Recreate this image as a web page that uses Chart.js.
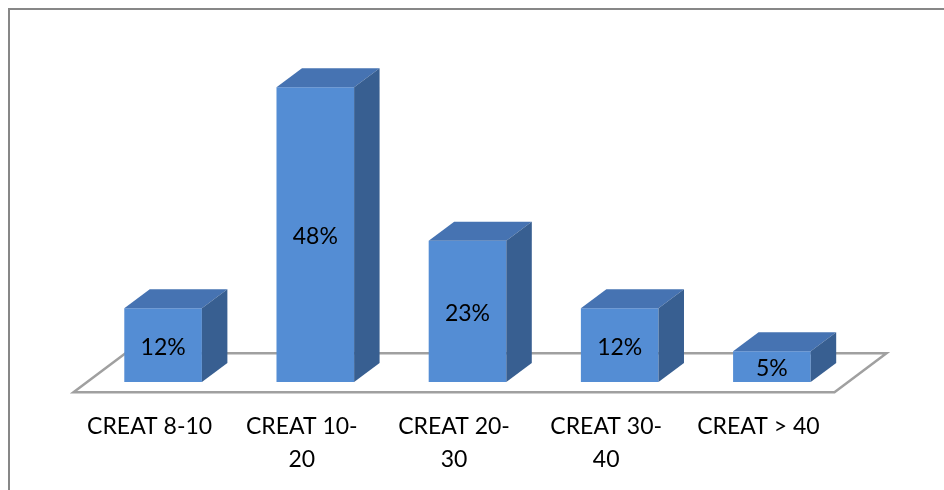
<!DOCTYPE html>
<html>
<head>
<meta charset="utf-8">
<script src="https://cdn.jsdelivr.net/npm/chart.js@4.4.1/dist/chart.umd.min.js"></script>
<style>
  html, body { margin: 0; padding: 0; background: #ffffff; }
  #wrap { width: 944px; height: 490px; position: relative; }
</style>
</head>
<body>
<div id="wrap"><canvas id="c" width="944" height="490"></canvas></div>
<script>
const categories = ["CREAT 8-10", ["CREAT 10-", "20"], ["CREAT 20-", "30"], ["CREAT 30-", "40"], "CREAT > 40"];
const values = [12, 48, 23, 12, 5];
const valueLabels = ["12%", "48%", "23%", "12%", "5%"];

const FRONT = '#548DD4';
const TOP = '#4673B2';
const SIDE = '#385F91';

// depth geometry (pixels)
const FLOOR_D = { dx: 52, dy: -39 };
const BAR_FRONT_T = 0.26;
const BAR_BACK_T = 0.75;

const threeD = {
  id: 'threeD',
  beforeDraw(chart) {
    const ctx = chart.ctx;
    ctx.save();
    ctx.fillStyle = '#ffffff';
    ctx.fillRect(0, 0, chart.width, chart.height);
    ctx.strokeStyle = '#878787';
    ctx.lineWidth = 2;
    ctx.strokeRect(9, 9, 2000, 2000);
    ctx.restore();
  },
  beforeDatasetsDraw(chart) {
    const ctx = chart.ctx;
    const x = chart.scales.x, y = chart.scales.y;
    const off = BAR_FRONT_T;
    const y0 = y.getPixelForValue(0) - FLOOR_D.dy * off;
    const xl = x.left - FLOOR_D.dx * off;
    const xr = x.right - FLOOR_D.dx * off;
    ctx.save();
    ctx.beginPath();
    ctx.moveTo(xl, y0);
    ctx.lineTo(xr, y0);
    ctx.lineTo(xr + FLOOR_D.dx, y0 + FLOOR_D.dy);
    ctx.lineTo(xl + FLOOR_D.dx, y0 + FLOOR_D.dy);
    ctx.closePath();
    ctx.fillStyle = '#ffffff';
    ctx.fill();
    ctx.strokeStyle = '#a0a0a0';
    ctx.lineWidth = 2.5;
    ctx.stroke();
    ctx.restore();
  },
  afterDatasetsDraw(chart) {
    const ctx = chart.ctx;
    const meta = chart.getDatasetMeta(0);
    const bdx = FLOOR_D.dx * (BAR_BACK_T - BAR_FRONT_T);
    const bdy = FLOOR_D.dy * (BAR_BACK_T - BAR_FRONT_T);
    ctx.save();
    meta.data.forEach((bar, i) => {
      const p = bar.getProps(['x', 'y', 'base', 'width'], true);
      const x1 = p.x - p.width / 2, x2 = p.x + p.width / 2;
      const yt = p.y, yb = p.base;
      // top face
      ctx.beginPath();
      ctx.moveTo(x1, yt);
      ctx.lineTo(x2, yt);
      ctx.lineTo(x2 + bdx, yt + bdy);
      ctx.lineTo(x1 + bdx, yt + bdy);
      ctx.closePath();
      ctx.fillStyle = TOP;
      ctx.fill();
      // side face
      ctx.beginPath();
      ctx.moveTo(x2, yt);
      ctx.lineTo(x2 + bdx, yt + bdy);
      ctx.lineTo(x2 + bdx, yb + bdy);
      ctx.lineTo(x2, yb);
      ctx.closePath();
      ctx.fillStyle = SIDE;
      ctx.fill();
      // value label
      ctx.fillStyle = '#000000';
      ctx.font = '23px Lato';
      ctx.textAlign = 'center';
      ctx.textBaseline = 'middle';
      ctx.fillText(valueLabels[i], p.x, (yt + yb) / 2 + 2);
    });
    ctx.restore();
  }
};

new Chart(document.getElementById('c'), {
  type: 'bar',
  data: {
    labels: categories,
    datasets: [{
      data: values,
      backgroundColor: FRONT,
      borderWidth: 0,
      barPercentage: 0.51,
      categoryPercentage: 1.0
    }]
  },
  options: {
    responsive: false,
    animation: false,
    events: [],
    layout: { padding: { left: 87, right: 96, top: 75, bottom: 0 } },
    plugins: { legend: { display: false }, tooltip: { enabled: false }, title: { display: false } },
    scales: {
      x: {
        type: 'category',
        offset: true,
        grid: { display: false, drawTicks: false },
        border: { display: false },
        ticks: {
          color: '#000000',
          font: { family: 'Lato', size: 23, lineHeight: 1.44 },
          padding: 28,
          labelOffset: -13.5,
          maxRotation: 0,
          minRotation: 0,
          autoSkip: false
        },
        afterFit(s) { s.height = 108; }
      },
      y: {
        display: false,
        min: 0,
        max: 50
      }
    }
  },
  plugins: [threeD]
});
</script>
</body>
</html>
